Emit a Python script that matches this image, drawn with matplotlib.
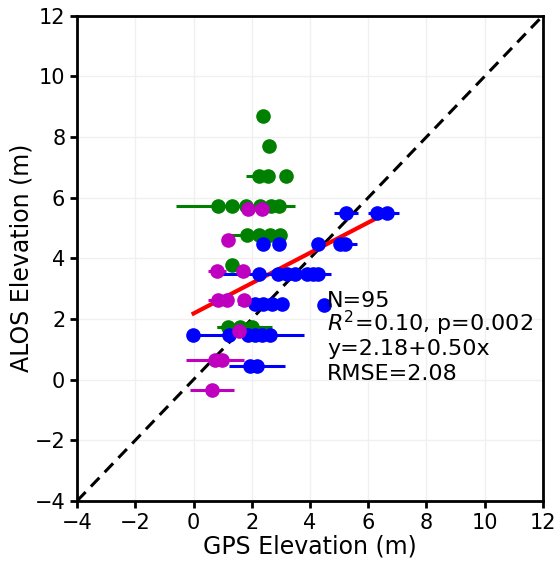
import matplotlib
matplotlib.use("Agg")
import matplotlib.pyplot as plt
import numpy as np

# Green series
x_green = [2.4, 2.6, 2.25, 2.55, 3.17, 0.85, 1.33, 1.81, 2.29, 2.67, 2.94, 1.84, 2.25, 2.63, 2.98, 1.33, 1.2, 1.6, 2.0]
y_green = [8.7, 7.72, 6.72, 6.72, 6.72, 5.73, 5.73, 5.73, 5.73, 5.73, 5.73, 4.77, 4.77, 4.77, 4.77, 3.78, 1.75, 1.75, 1.75]
xerr_green = [0.0, 0.2, 0.45, 0.1, 0.1, 1.45, 0.1, 0.1, 0.1, 0.1, 0.55, 0.65, 0.1, 0.1, 0.1, 0.1, 0.4, 0.8, 0.7]

# Blue series
x_blue = [5.24, 6.31, 6.65, 4.28, 5.04, 5.21, 2.39, 2.94,
          2.25, 2.91, 3.22, 3.49, 3.9, 4.1, 4.28,
          2.12, 2.39, 2.70, 3.04, 4.49,
          -0.01, 1.22, 1.88, 2.12, 2.36, 2.63,
          1.95, 2.18]
y_blue = [5.5, 5.5, 5.5, 4.48, 4.48, 4.48, 4.47, 4.47,
          3.49, 3.49, 3.49, 3.49, 3.49, 3.49, 3.49,
          2.5, 2.5, 2.5, 2.5, 2.46,
          1.47, 1.47, 1.47, 1.47, 1.47, 1.47,
          0.45, 0.45]
xerr_blue = [0.4, 0.3, 0.4, 0.1, 0.1, 0.4, 0.1, 0.1,
             1.6, 0.1, 0.1, 0.1, 0.1, 0.1, 0.45,
             0.6, 0.1, 0.5, 0.1, 0.0,
             0.0, 0.1, 1.9, 0.1, 0.1, 0.1,
             0.1, 0.95]

# Magenta series
x_mag = [1.88, 2.36, 1.19, 0.81, 1.70, 0.85, 1.15, 1.74, 1.57, 0.74, 0.98, 0.64]
y_mag = [5.63, 5.63, 4.61, 3.58, 3.58, 2.63, 2.63, 2.63, 1.61, 0.65, 0.65, -0.34]
xerr_mag = [0.1, 0.1, 0.0, 0.3, 0.1, 0.35, 0.1, 0.1, 0.0, 1.0, 0.1, 0.75]

# Regression
fit_intercept = 2.18
fit_slope = 0.50
fit_x_range = [0.0, 6.2]
stats_lines = ["N=95", r"$R^2$=0.10, p=0.002", "y=2.18+0.50x", "RMSE=2.08"]
stats_y = [2.41, 1.61, 0.80, 0.0]

ticks = [-4, -2, 0, 2, 4, 6, 8, 10, 12]

fig = plt.figure(figsize=(5.59, 5.64), dpi=100)
ax = fig.add_axes([0.138, 0.112, 0.833, 0.860])

ax.plot([-4, 12], [-4, 12], 'k--', lw=2.2, zorder=2, dashes=(4, 2.5))
fx = np.array(fit_x_range)
ax.plot(fx, fit_intercept + fit_slope * fx, color='red', lw=3, zorder=2.5)

for xs, ys, xe, c in [(x_green, y_green, xerr_green, 'green'),
                      (x_blue, y_blue, xerr_blue, 'blue'),
                      (x_mag, y_mag, xerr_mag, 'm')]:
    ax.errorbar(xs, ys, xerr=xe, fmt='o', color=c, ms=9.5, elinewidth=2.2,
                capsize=0, zorder=3)

for s, yy in zip(stats_lines, stats_y):
    ax.text(4.59, yy, s, fontsize=16, va='baseline', ha='left', zorder=4)

ax.set_xlim(-4, 12)
ax.set_ylim(-4, 12)
ax.set_xticks(ticks)
ax.set_yticks(ticks)
ax.grid(True, color='#f0f0f0', lw=1)
ax.set_axisbelow(True)
ax.tick_params(labelsize=15, width=2, length=5, direction='out')
for sp in ax.spines.values():
    sp.set_linewidth(2)
ax.set_xlabel("GPS Elevation (m)", fontsize=17, labelpad=1)
ax.set_ylabel("ALOS Elevation (m)", fontsize=17, labelpad=1)

fig.savefig("out.png", dpi=100)
